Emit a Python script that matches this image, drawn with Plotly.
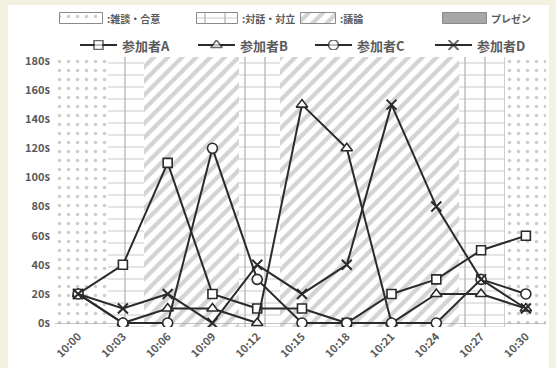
import plotly.graph_objects as go

# Time axis: minutes after 10:00 and their labels
minutes = [0, 3, 6, 9, 12, 15, 18, 21, 24, 27, 30]
time_labels = ["10:00", "10:03", "10:06", "10:09", "10:12", "10:15",
               "10:18", "10:21", "10:24", "10:27", "10:30"]

# Speaking time (seconds) per participant in each 3-minute slot
names = ["参加者A", "参加者B", "参加者C", "参加者D"]
speak_a = [20, 40, 110, 20, 10, 10, 0, 20, 30, 50, 60]
speak_b = [20, 0, 10, 10, 0, 150, 120, 0, 20, 20, 10]
speak_c = [20, 0, 0, 120, 30, 0, 0, 0, 0, 30, 20]
speak_d = [20, 10, 20, 0, 40, 20, 40, 150, 80, 30, 10]

# Meeting phases (minutes after 10:00)
phase_kind = ["雑談・合意", "対話・対立", "議論", "対話・対立", "議論", "対話・対立", "雑談・合意"]
phase_start = [-1.6, 2.0, 4.4, 10.8, 13.5, 25.5, 28.6]
phase_end = [2.0, 4.4, 10.8, 13.5, 25.5, 28.6, 31.4]

# Y ticks
y_ticks = [0, 20, 40, 60, 80, 100, 120, 140, 160, 180]
y_tick_text = ["0s", "20s", "40s", "60s", "80s", "100s", "120s", "140s", "160s", "180s"]

# Legend keys for the phases
legend_kinds = ["雑談・合意", "対話・対立", "議論", "プレゼン"]
legend_texts = [":雑談・合意", ":対話・対立", ":議論", "プレゼン"]

FONT = "Noto Sans CJK JP"
INK = "#2b2b2b"
TEXT = "#5a5a5a"
Y_LO, Y_HI = -2.7, 182.7

# pattern(s) used for each phase kind
PATTERNS = {
    "雑談・合意": [dict(shape=".", size=9, solidity=0.13, fgcolor="#9c9c9c")],
    "対話・対立": [dict(shape="|", size=20, solidity=0.1, fgcolor="#a0a0a0"),
                 dict(shape="-", size=12, solidity=0.12, fgcolor="#b6b6b6")],
    "議論": [dict(shape="/", size=10, solidity=0.42, fgcolor="#a8a8a8")],
}

fig = go.Figure()

# phase background bands
for kind, s, e in zip(phase_kind, phase_start, phase_end):
    for pat in PATTERNS[kind]:
        fig.add_trace(go.Bar(
            x=[(s + e) / 2], y=[Y_HI - Y_LO], base=[Y_LO], width=[e - s],
            marker=dict(color="rgba(0,0,0,0)", line=dict(width=0), pattern=pat),
            showlegend=False, hoverinfo="skip"))

# participant lines
styles = [
    dict(symbol="square", size=9),
    dict(symbol="triangle-up", size=10),
    dict(symbol="circle", size=10),
    dict(symbol="x-thin", size=10),
]


def marker_style(st, size):
    if st["symbol"] == "x-thin":
        return dict(symbol="x-thin", size=size, color=INK, line=dict(color=INK, width=2))
    return dict(symbol=st["symbol"], size=size, color="white",
                line=dict(color=INK, width=1.6))


for name, vals, st in zip(names, [speak_a, speak_b, speak_c, speak_d], styles):
    fig.add_trace(go.Scatter(
        x=minutes, y=vals, name=name, mode="lines+markers",
        line=dict(color=INK, width=2), marker=marker_style(st, st["size"]),
        showlegend=False))

# phase legend swatches on an auxiliary pixel-scaled axis pair (x2 / y2)
box_left = [60, 197, 301, 443]
box_right = [103, 238, 336, 487]
for kind, l, r in zip(legend_kinds, box_left, box_right):
    pats = PATTERNS.get(kind)
    if pats is None:
        fig.add_trace(go.Bar(
            x=[(l + r) / 2], y=[1], base=[0], width=[r - l], xaxis="x2", yaxis="y2",
            marker=dict(color="#a6a6a6", line=dict(color="#8a8a8a", width=1)),
            showlegend=False, hoverinfo="skip"))
    else:
        for i, pat in enumerate(pats):
            fig.add_trace(go.Bar(
                x=[(l + r) / 2], y=[1], base=[0], width=[r - l], xaxis="x2", yaxis="y2",
                marker=dict(color="rgba(0,0,0,0)",
                            line=dict(color="#8a8a8a", width=1 if i == 0 else 0),
                            pattern=pat),
                showlegend=False, hoverinfo="skip"))
for txt, r in zip(legend_texts, box_right):
    fig.add_annotation(x=r + 2, y=0.5, xref="x2", yref="y2", text=txt,
                       showarrow=False, xanchor="left", yanchor="middle",
                       font=dict(family=FONT, size=10, color=TEXT, weight="bold"))

# participant legend samples (x2 / y3)
key_left = [80, 198, 315, 435]
KEY_LEN = 37
for name, st, l in zip(names, styles, key_left):
    fig.add_trace(go.Scatter(
        x=[l, l + KEY_LEN / 2, l + KEY_LEN], y=[0.5, 0.5, 0.5], xaxis="x2", yaxis="y3",
        mode="lines+markers", line=dict(color=INK, width=2),
        marker=marker_style(st, [0, st["size"], 0]),
        showlegend=False, hoverinfo="skip"))
    fig.add_annotation(x=l + KEY_LEN + 3, y=0.5, xref="x2", yref="y3", text=name,
                       showarrow=False, xanchor="left", yanchor="middle",
                       font=dict(family=FONT, size=13, color=TEXT, weight="bold"))

PLOT_TOP_DOMAIN = (327 - 57) / 322

fig.update_layout(
    width=556, height=368,
    margin=dict(l=55, r=10, t=5, b=41, autoexpand=False),
    paper_bgcolor="#f3f1e0",
    plot_bgcolor="white",
    barmode="overlay",
    bargap=0,
    showlegend=False,
    font=dict(family=FONT, color=TEXT),
    xaxis=dict(
        range=[-1.55, 31.35], tickmode="array", tickvals=minutes, ticktext=time_labels,
        tickangle=-45, showgrid=False, zeroline=False, showline=False, ticks="",
        tickfont=dict(family=FONT, size=11, color=TEXT, weight="bold"),
        domain=[0, 1], anchor="y", fixedrange=True, automargin=False),
    yaxis=dict(
        range=[Y_LO, Y_HI], tickmode="array", tickvals=y_ticks, ticktext=y_tick_text,
        showgrid=False, zeroline=True, zerolinecolor="#c4c4c4", zerolinewidth=1,
        showline=False, ticks="", domain=[0, PLOT_TOP_DOMAIN], ticklabelstandoff=4,
        tickfont=dict(family=FONT, size=11, color=TEXT, weight="bold"),
        fixedrange=True, automargin=False),
    xaxis2=dict(range=[55, 546], domain=[0, 1], anchor="y2", visible=False, fixedrange=True),
    yaxis2=dict(range=[-0.12, 1.12], domain=[(327 - 25) / 322, (327 - 12) / 322],
                anchor="x2", visible=False, fixedrange=True),
    yaxis3=dict(range=[0, 1], domain=[(327 - 50) / 322, (327 - 40) / 322], anchor="x2",
                visible=False, fixedrange=True),
    shapes=[dict(type="rect", xref="paper", yref="paper",
                 x0=(8 - 55) / 491, x1=(549 - 55) / 491,
                 y0=(327 - 368) / 322, y1=(327 - 5) / 322,
                 fillcolor="white", line=dict(width=0), layer="below")],
)

fig.write_html("out.html")
